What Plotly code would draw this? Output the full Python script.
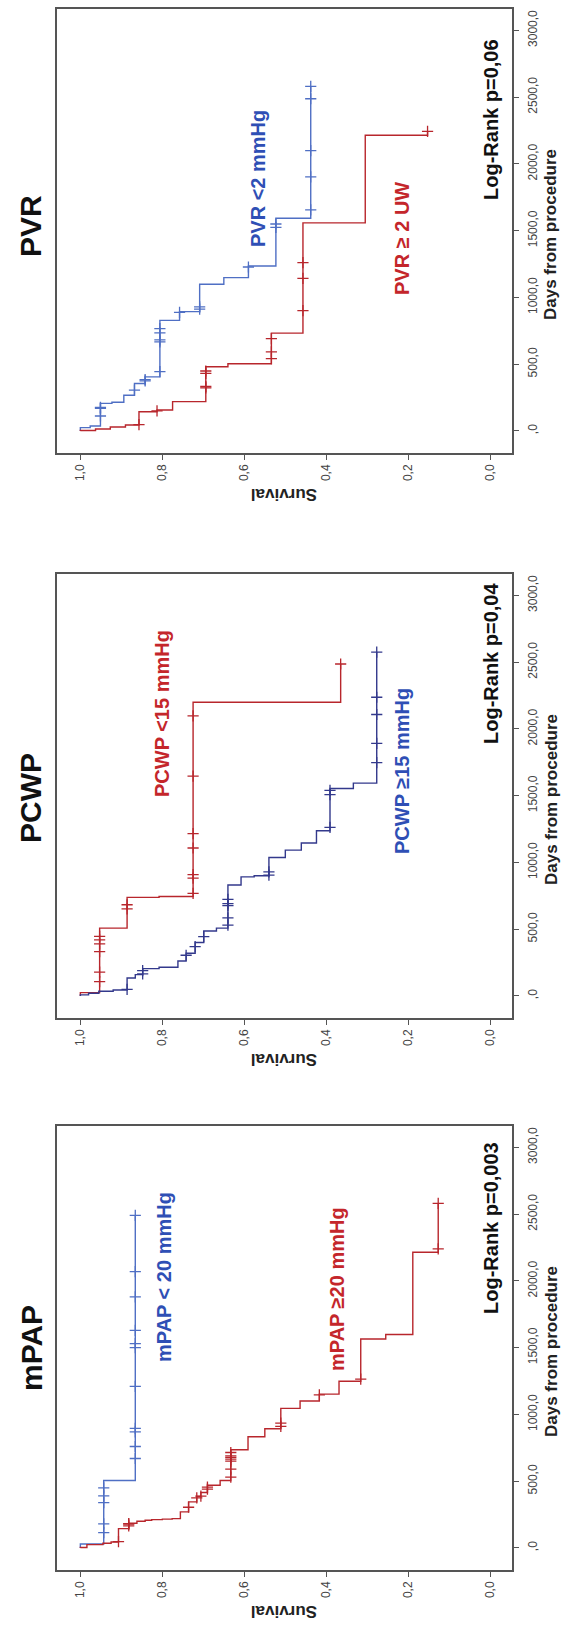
import plotly.graph_objects as go

# ---------------- data (days, survival) ----------------
# mPAP panel
mpap_lo_evt_t = [30, 505]
mpap_lo_evt_s = [0.943, 0.866]
mpap_lo_cens = [115, 180, 340, 390, 450, 670, 760, 870, 895, 1210, 1500, 1530, 1630, 1880, 2070, 2490]

mpap_hi_evt_t = [3, 25, 35, 45, 145, 185, 200, 208, 212, 216, 220, 270, 345, 385, 415, 470, 505,
                 735, 833, 893, 1045, 1101, 1152, 1249, 1565, 1599, 2215]
mpap_hi_evt_s = [0.984, 0.945, 0.925, 0.907, 0.882, 0.862, 0.842, 0.826, 0.80, 0.776, 0.756, 0.736,
                 0.716, 0.706, 0.690, 0.659, 0.633, 0.591, 0.550, 0.511, 0.464, 0.417, 0.369, 0.316,
                 0.255, 0.189, 0.127]
mpap_hi_cens = [48, 165, 178, 183, 305, 375, 388, 440, 455, 530, 590, 650, 665, 678, 690, 715,
                910, 935, 1147, 1265, 2240, 2580]

# PCWP panel
pcwp_lo_evt_t = [25, 508, 738, 745, 2200]
pcwp_lo_evt_s = [0.953, 0.886, 0.808, 0.725, 0.365]
pcwp_lo_cens = [108, 178, 332, 390, 420, 446, 652, 683, 769, 883, 908, 1108, 1215, 1646, 2098, 2486]

pcwp_hi_evt_t = [8, 20, 35, 45, 135, 160, 205, 215, 262, 320, 400, 486, 508, 831, 892, 900,
                 1037, 1092, 1145, 1237, 1554, 1594]
pcwp_hi_evt_s = [0.98, 0.955, 0.92, 0.886, 0.866, 0.848, 0.808, 0.762, 0.742, 0.72, 0.699, 0.668,
                 0.64, 0.608, 0.576, 0.54, 0.50, 0.461, 0.424, 0.391, 0.334, 0.277]
pcwp_hi_cens = [50, 165, 190, 305, 370, 445, 530, 585, 677, 692, 723, 905, 930, 1262, 1508, 1540,
                1748, 1892, 2108, 2237, 2575]

# PVR panel
pvr_lo_evt_t = [25, 37, 207, 215, 268, 356, 405, 828, 894, 1099, 1148, 1235, 1593]
pvr_lo_evt_s = [0.976, 0.951, 0.923, 0.894, 0.868, 0.842, 0.806, 0.758, 0.709, 0.65, 0.59, 0.523, 0.438]
pvr_lo_cens = [112, 169, 176, 306, 375, 385, 445, 667, 682, 735, 766, 888, 912, 930, 1228,
               1525, 1550, 1655, 1903, 2100, 2488, 2580]

pvr_hi_evt_t = [3, 15, 30, 45, 144, 157, 220, 481, 503, 733, 1558, 2215]
pvr_hi_evt_s = [0.963, 0.927, 0.89, 0.857, 0.813, 0.775, 0.694, 0.64, 0.534, 0.457, 0.305, 0.153]
pvr_hi_cens = [47, 150, 322, 333, 432, 449, 542, 592, 691, 901, 1142, 1261, 2243]

surv_ticks = [1.0, 0.8, 0.6, 0.4, 0.2, 0.0]
surv_ticktext = ["1,0", "0,8", "0,6", "0,4", "0,2", "0,0"]
day_ticks = [0, 500, 1000, 1500, 2000, 2500, 3000]
day_ticktext = [",0", "500,0", "1000,0", "1500,0", "2000,0", "2500,0", "3000,0"]

panel_titles = ["mPAP", "PCWP", "PVR"]
pvalues = ["Log-Rank p=0,003", "Log-Rank p=0,04", "Log-Rank p=0,06"]

# ---------------- helpers ----------------
W, H = 565, 1629
FONT = "Arial, Liberation Sans, Helvetica, sans-serif"


def surv_at(t, evt_t, evt_s):
    s = 1.0
    for et, es in zip(evt_t, evt_s):
        if et <= t:
            s = es
    return s


def px(x):
    return x / W


def py(y):
    return 1 - y / H


fig = go.Figure()

# frame pixel positions for each panel (top, bottom)
frames = {"mPAP": (1126, 1570), "PCWP": (574, 1018), "PVR": (9, 453)}
xdom = [px(57), px(512)]

BLUE_L = "#4f6fc4"
RED_L = "#b8262c"
NAVY_L = "#33398c"
BLUE_T = "#2f4fb5"
RED_T = "#c4262b"

panels = [
    ("mPAP", "x", "y",
     [(mpap_lo_evt_t, mpap_lo_evt_s, mpap_lo_cens, BLUE_L),
      (mpap_hi_evt_t, mpap_hi_evt_s, mpap_hi_cens, RED_L)]),
    ("PCWP", "x2", "y2",
     [(pcwp_lo_evt_t, pcwp_lo_evt_s, pcwp_lo_cens, RED_L),
      (pcwp_hi_evt_t, pcwp_hi_evt_s, pcwp_hi_cens, NAVY_L)]),
    ("PVR", "x3", "y3",
     [(pvr_lo_evt_t, pvr_lo_evt_s, pvr_lo_cens, BLUE_L),
      (pvr_hi_evt_t, pvr_hi_evt_s, pvr_hi_cens, RED_L)]),
]

for name, xa, ya, curves in panels:
    for evt_t, evt_s, cens, col in curves:
        end_t = max(cens[-1], evt_t[-1])
        xs = [1.0] + list(evt_s) + [evt_s[-1]]
        ys = [0] + list(evt_t) + [end_t]
        fig.add_trace(go.Scatter(x=xs, y=ys, mode="lines", line=dict(color=col, width=1.4, shape="vh"),
                                 xaxis=xa, yaxis=ya, showlegend=False, hoverinfo="skip"))
        cs = [surv_at(c, evt_t, evt_s) for c in cens]
        fig.add_trace(go.Scatter(x=cs, y=cens, mode="markers",
                                 marker=dict(symbol="cross-thin", size=8, line=dict(color=col, width=1.3)),
                                 xaxis=xa, yaxis=ya, showlegend=False, hoverinfo="skip"))

axis_common_x = dict(range=[1.057, -0.053], tickmode="array", tickvals=surv_ticks, ticktext=surv_ticktext,
                     tickangle=-90, ticks="outside", ticklen=5, tickcolor="#555", tickwidth=1,
                     showline=True, linecolor="#555", linewidth=1.6, mirror=True, showgrid=False,
                     zeroline=False, tickfont=dict(family=FONT, size=12, color="#444"), domain=xdom,
                     fixedrange=True)
axis_common_y = dict(range=[-165, 3160], tickmode="array", tickvals=day_ticks, ticktext=day_ticktext,
                     tickangle=-90, ticks="outside", ticklen=5, tickcolor="#555", tickwidth=1,
                     ticklabelstandoff=4,
                     side="right", showline=True, linecolor="#555", linewidth=1.6, mirror=True,
                     showgrid=False, zeroline=False, tickfont=dict(family=FONT, size=12, color="#444"),
                     fixedrange=True)

layout_axes = {}
for i, (name, xa, ya, _) in enumerate(panels):
    top, bot = frames[name]
    sfx = "" if i == 0 else str(i + 1)
    layout_axes["xaxis" + sfx] = dict(axis_common_x, anchor="y" + sfx)
    layout_axes["yaxis" + sfx] = dict(axis_common_y, anchor="x" + sfx, domain=[py(bot), py(top)])

annotations = []


def ann(text, x, y, size, color, angle=-90, bold=True):
    annotations.append(dict(text=("<b>%s</b>" % text) if bold else text, x=px(x), y=py(y),
                            xref="paper", yref="paper", showarrow=False, textangle=angle,
                            font=dict(family=FONT, size=size, color=color),
                            xanchor="center", yanchor="middle"))


# panel titles
ann(panel_titles[0], 31, 1348, 30, "#111")
ann(panel_titles[1], 30, 798, 30, "#111")
ann(panel_titles[2], 31, 226, 30, "#111")

# group labels
ann("mPAP &lt; 20 mmHg", 164, 1277, 20, BLUE_T)
ann("mPAP ≥20 mmHg", 337, 1289, 20, RED_T)
ann("PCWP &lt;15 mmHg", 162, 714, 20, RED_T)
ann("PCWP ≥15 mmHg", 402, 771, 20, BLUE_T)
ann("PVR &lt;2 mmHg", 258, 179, 20, BLUE_T)
ann("PVR ≥ 2 UW", 402, 239, 20, RED_T)

# log-rank
ann(pvalues[0], 491, 1228, 20, "#111")
ann(pvalues[1], 491, 664, 20, "#111")
ann(pvalues[2], 491, 120, 20, "#111")

# axis titles
for name in ["mPAP", "PCWP", "PVR"]:
    top, bot = frames[name]
    ann("Days from procedure", 551, (top + bot) / 2 + 4, 17, "#222")
    ann("Survival", 284, bot + 42, 17, "#222", angle=180)

fig.update_layout(width=W, height=H, autosize=False, margin=dict(l=0, r=0, t=0, b=0),
                  paper_bgcolor="white", plot_bgcolor="white", showlegend=False,
                  annotations=annotations, **layout_axes)

fig.write_html("out.html", config={"displayModeBar": False, "staticPlot": True},
               post_script="document.body.style.margin='0';")
